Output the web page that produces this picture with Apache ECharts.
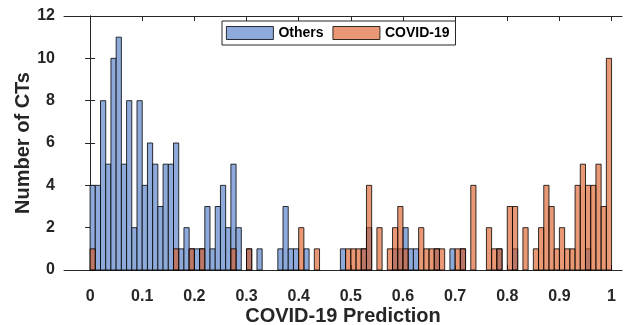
<!DOCTYPE html>
<html>
<head>
<meta charset="utf-8">
<script src="https://cdn.jsdelivr.net/npm/echarts@6/dist/echarts.min.js"></script>
<style>
  html, body { margin: 0; padding: 0; background: #fff; }
  #chart { width: 630px; height: 325px; }
</style>
</head>
<body>
<div id="chart"></div>
<script>
// Histogram counts per 0.01-wide bin of the COVID-19 prediction score (bins 0..99)
const binWidth = 0.01;
const othersCounts = [
  4, 4, 8, 5, 10, 11, 5, 8, 2, 8,
  4, 6, 5, 3, 5, 5, 6, 1, 2, 1,
  1, 1, 3, 1, 3, 4, 2, 5, 2, 0,
  1, 0, 1, 0, 0, 0, 1, 3, 1, 1,
  0, 1, 0, 0, 0, 0, 0, 0, 1, 0,
  0, 0, 1, 2, 0, 0, 0, 0, 1, 1,
  2, 1, 1, 0, 0, 0, 1, 0, 0, 1,
  0, 1, 0, 0, 0, 0, 0, 0, 1, 0,
  0, 1, 0, 0, 0, 0, 0, 0, 0, 0,
  0, 0, 0, 0, 0, 1, 0, 0, 0, 0
];
const covidCounts = [
  1, 0, 0, 0, 0, 0, 0, 0, 0, 0,
  0, 0, 0, 0, 0, 0, 1, 0, 0, 1,
  0, 1, 0, 0, 0, 0, 0, 1, 0, 0,
  1, 0, 0, 0, 0, 0, 0, 0, 0, 0,
  2, 0, 0, 1, 0, 0, 0, 0, 0, 1,
  1, 1, 1, 4, 0, 2, 0, 1, 2, 3,
  1, 0, 0, 2, 1, 1, 1, 1, 0, 0,
  1, 1, 0, 4, 0, 0, 2, 1, 1, 0,
  3, 3, 0, 2, 0, 1, 2, 4, 3, 1,
  2, 1, 1, 4, 5, 4, 4, 5, 3, 10
];
const xTickLabels = ['0', '0.1', '0.2', '0.3', '0.4', '0.5', '0.6', '0.7', '0.8', '0.9', '1'];
const yTickLabels = ['0', '2', '4', '6', '8', '10', '12'];
const seriesNames = ['Others', 'COVID-19'];

const FONT = 'Liberation Sans';
const AXIS_COLOR = '#262626';
const BLUE = '#8daadb';
const ORANGE = 'rgba(217, 83, 25, 0.6)';

const xTickValues = xTickLabels.map(Number);

function toData(counts) {
  return counts.map((c, i) => [i * binWidth, c]);
}

function makeRender(fill) {
  return function (params, api) {
    const x0 = api.value(0);
    const v = api.value(1);
    if (!v) return null;
    const p0 = api.coord([x0, v]);
    const p1 = api.coord([x0 + binWidth, 0]);
    return {
      type: 'rect',
      shape: { x: p0[0], y: p0[1], width: p1[0] - p0[0], height: p1[1] - p0[1] },
      style: { fill: fill, stroke: '#000', lineWidth: 0.8 }
    };
  };
}

const chart = echarts.init(document.getElementById('chart'));

const labelStyle = { fontFamily: FONT, fontWeight: 'bold', fontSize: 16, color: AXIS_COLOR };
const titleStyle = { fontFamily: FONT, fontWeight: 'bold', fontSize: 20, color: AXIS_COLOR };

chart.setOption({
  animation: false,
  grid: { left: 64, right: 8, top: 16, bottom: 55, outerBoundsMode: 'none', containLabel: false },
  legend: {
    top: 21,
    left: 222,
    orient: 'horizontal',
    itemWidth: 47,
    itemHeight: 13,
    itemGap: 9,
    padding: [5, 6, 5, 4],
    borderColor: AXIS_COLOR,
    borderWidth: 1,
    backgroundColor: '#fff',
    icon: 'rect',
    itemStyle: { borderColor: '#000', borderWidth: 0.8 },
    textStyle: { fontFamily: FONT, fontWeight: 'bold', fontSize: 14, color: '#000' },
    data: seriesNames
  },
  xAxis: [
    {
      type: 'value',
      min: -0.05,
      max: 1.02,
      position: 'bottom',
      name: 'COVID-19 Prediction',
      nameLocation: 'middle',
      nameGap: 36,
      nameMoveOverlap: false,
      nameTextStyle: titleStyle,
      axisLine: { onZero: false, lineStyle: { color: AXIS_COLOR, width: 1 } },
      axisTick: { inside: true, length: 5, customValues: xTickValues, lineStyle: { color: AXIS_COLOR } },
      axisLabel: Object.assign({
        customValues: xTickValues,
        margin: 19,
        formatter: v => xTickLabels[xTickValues.indexOf(v)] ?? String(v)
      }, labelStyle),
      splitLine: { show: false }
    },
    {
      type: 'value',
      min: -0.05,
      max: 1.02,
      position: 'top',
      axisLine: { onZero: false, lineStyle: { color: AXIS_COLOR, width: 1 } },
      axisTick: { inside: true, length: 5, customValues: xTickValues, lineStyle: { color: AXIS_COLOR } },
      axisLabel: { show: false },
      splitLine: { show: false }
    }
  ],
  yAxis: [
    {
      type: 'value',
      min: 0,
      max: 12,
      interval: 2,
      name: 'Number of CTs',
      nameLocation: 'middle',
      nameGap: 31,
      nameMoveOverlap: false,
      nameTextStyle: titleStyle,
      axisLine: { show: true, lineStyle: { color: AXIS_COLOR, width: 1 } },
      axisTick: { show: true, inside: true, length: 5, lineStyle: { color: AXIS_COLOR } },
      axisLabel: Object.assign({
        margin: 9,
        formatter: v => yTickLabels[Math.round(v / 2)]
      }, labelStyle),
      splitLine: { show: false }
    },
    {
      type: 'value',
      min: 0,
      max: 12,
      interval: 2,
      position: 'right',
      axisLine: { show: true, lineStyle: { color: AXIS_COLOR, width: 1 } },
      axisTick: { show: true, inside: true, length: 5, lineStyle: { color: AXIS_COLOR } },
      axisLabel: { show: false },
      splitLine: { show: false }
    }
  ],
  series: [
    {
      name: seriesNames[0],
      type: 'custom',
      xAxisIndex: 0,
      yAxisIndex: 0,
      itemStyle: { color: BLUE },
      renderItem: makeRender(BLUE),
      encode: { x: 0, y: 1 },
      data: toData(othersCounts),
      z: 2
    },
    {
      name: seriesNames[1],
      type: 'custom',
      xAxisIndex: 0,
      yAxisIndex: 0,
      itemStyle: { color: ORANGE },
      renderItem: makeRender(ORANGE),
      encode: { x: 0, y: 1 },
      data: toData(covidCounts),
      z: 3
    }
  ]
});
</script>
</body>
</html>
